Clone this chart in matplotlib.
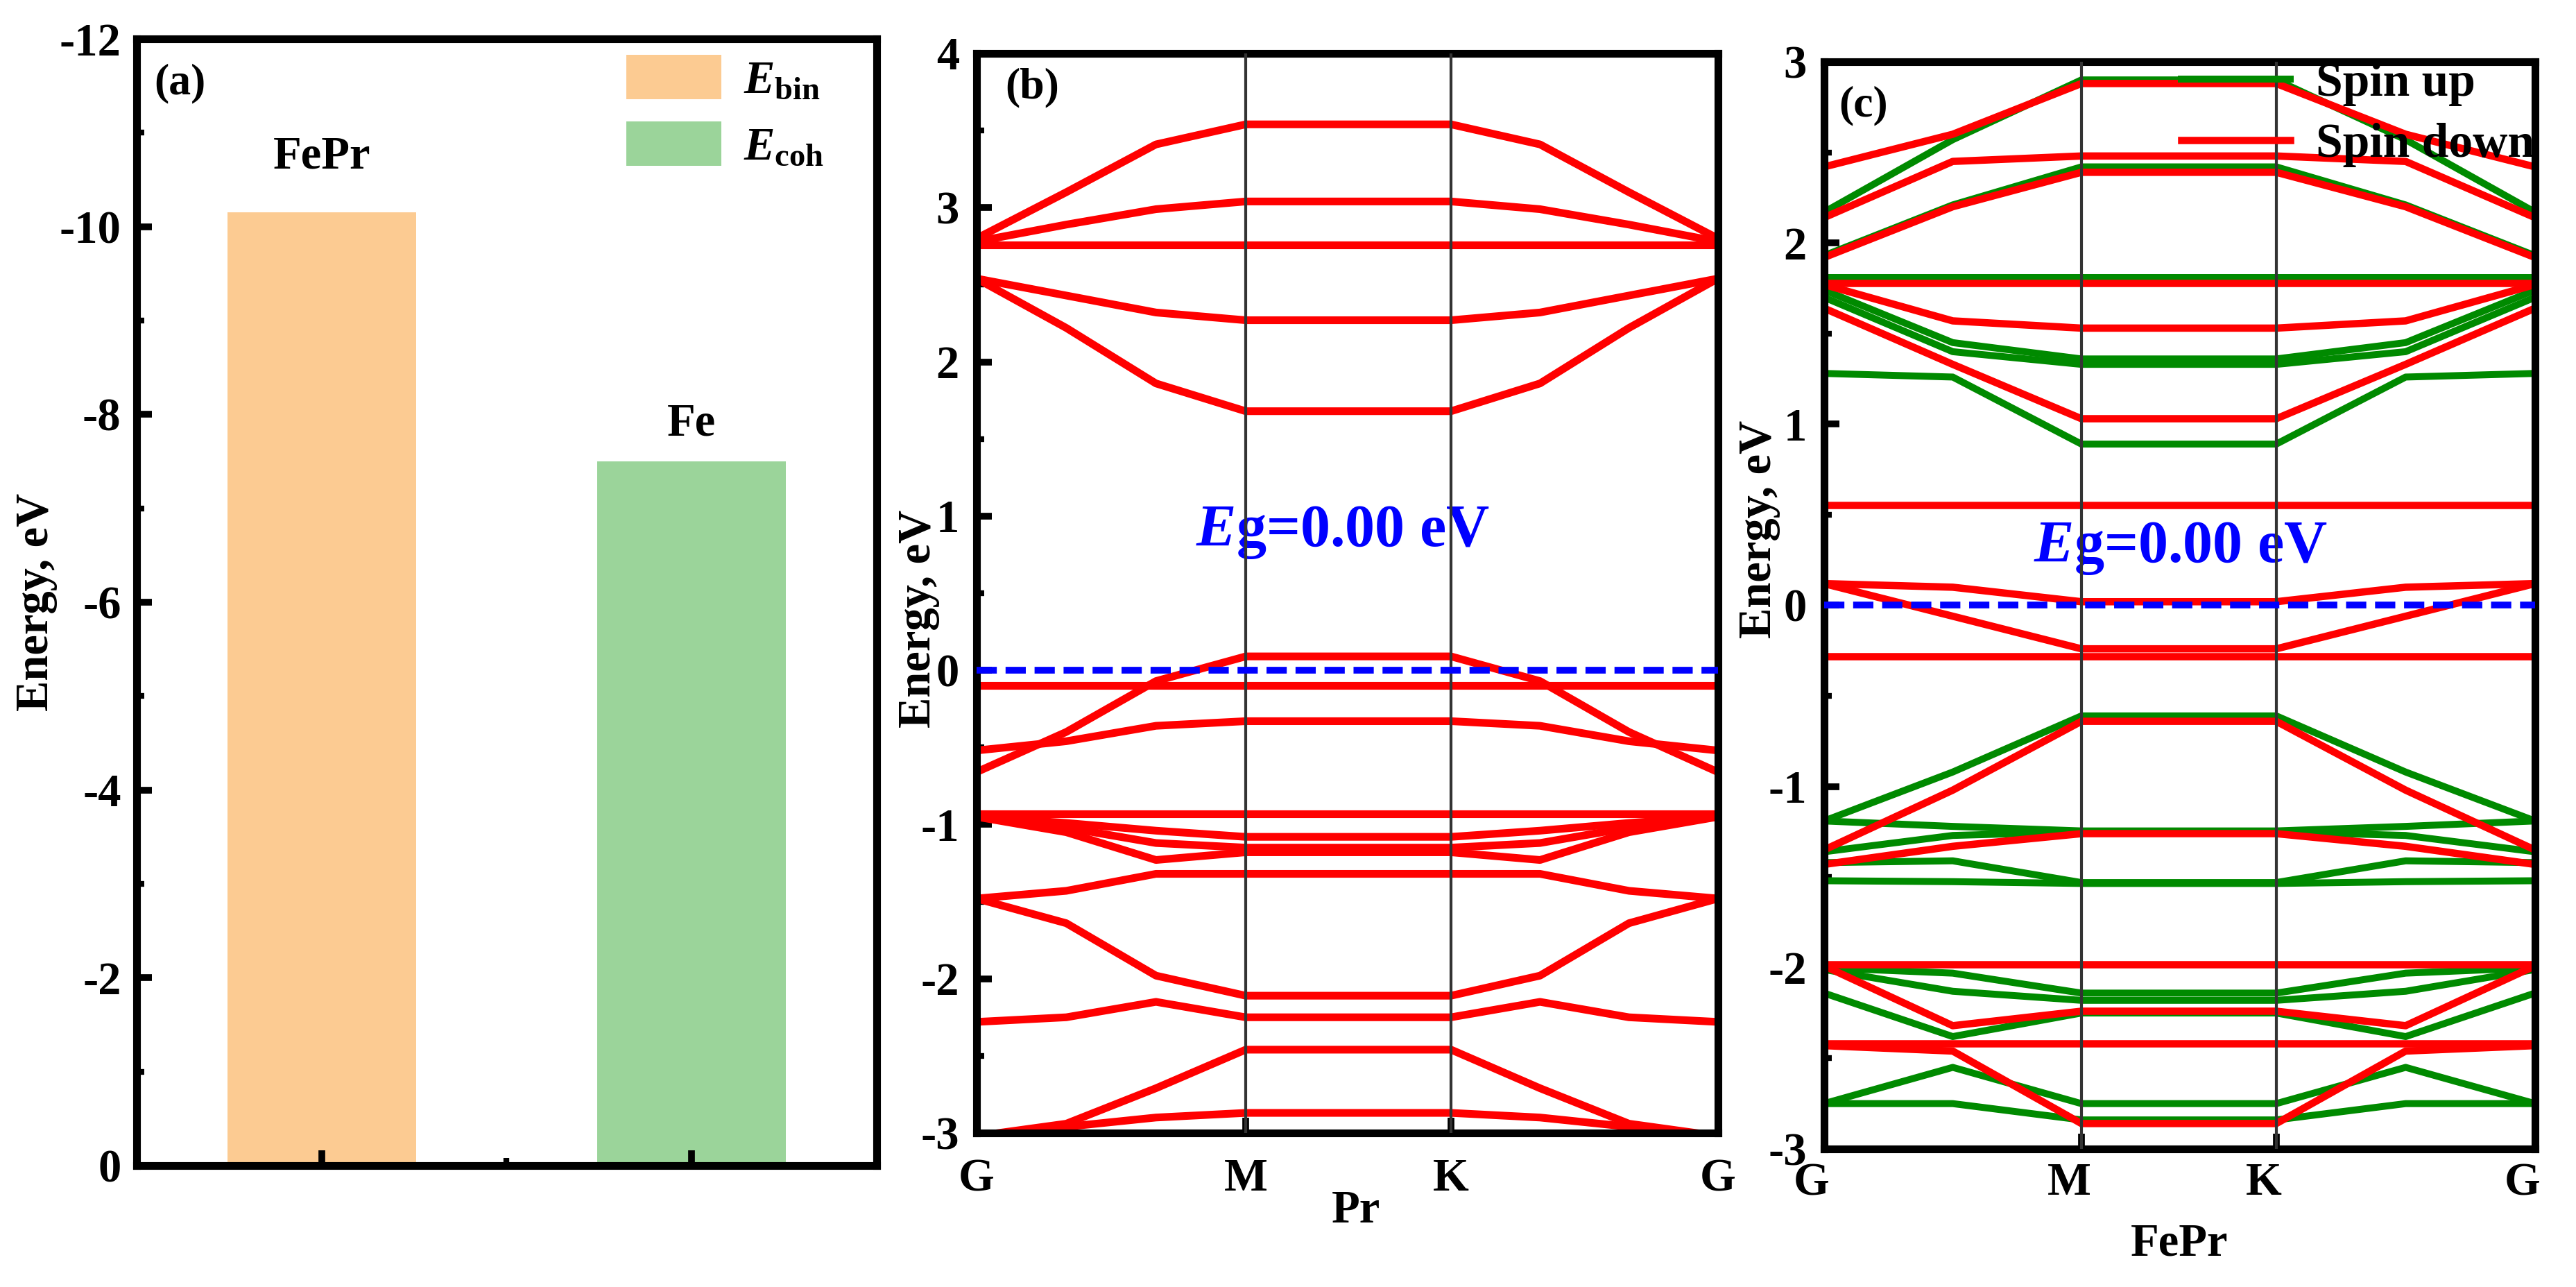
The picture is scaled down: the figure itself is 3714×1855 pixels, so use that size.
import numpy as np
import matplotlib
matplotlib.use('Agg')
import matplotlib.pyplot as plt
from matplotlib.ticker import MultipleLocator
from matplotlib.transforms import ScaledTranslation

plt.rcParams['font.family'] = ['Liberation Serif', 'DejaVu Serif']
plt.rcParams['font.weight'] = 'bold'
plt.rcParams['axes.unicode_minus'] = False
plt.rcParams['mathtext.fontset'] = 'custom'
plt.rcParams['mathtext.rm'] = 'Liberation Serif:bold'
plt.rcParams['mathtext.it'] = 'Liberation Serif:italic:bold'
plt.rcParams['mathtext.bf'] = 'Liberation Serif:bold'

# (a) binding / cohesive energy
compounds = ['FePr', 'Fe']
energies = [-10.15, -7.50]
legend_labels = [r'$E_{\mathrm{bin}}$', r'$E_{\mathrm{coh}}$']
bar_colors = ['#fccb92', '#9bd49a']
label_offsets = [0.47, 0.28]

# k path (G-M-K-G)
k_labels = ['G', 'M', 'K', 'G']
k_pr = [0.0, 0.121, 0.242, 0.363, 0.640, 0.760, 0.880, 1.0]
k_fepr = [0.0, 0.181, 0.362, 0.636, 0.818, 1.0]

# (b) Pr bands, eV
bands_pr = [
    [2.80, 3.10, 3.41, 3.54, 3.54, 3.41, 3.10, 2.80],
    [2.78, 2.89, 2.99, 3.04, 3.04, 2.99, 2.89, 2.78],
    [2.76, 2.76, 2.76, 2.76, 2.76, 2.76, 2.76, 2.76],
    [2.54, 2.43, 2.32, 2.27, 2.27, 2.32, 2.43, 2.54],
    [2.54, 2.22, 1.86, 1.68, 1.68, 1.86, 2.22, 2.54],
    [-0.66, -0.40, -0.07, 0.09, 0.09, -0.07, -0.40, -0.66],
    [-0.52, -0.46, -0.36, -0.33, -0.33, -0.36, -0.46, -0.52],
    [-0.10, -0.10, -0.10, -0.10, -0.10, -0.10, -0.10, -0.10],
    [-0.93, -0.93, -0.93, -0.93, -0.93, -0.93, -0.93, -0.93],
    [-0.95, -0.99, -1.04, -1.08, -1.08, -1.04, -0.99, -0.95],
    [-0.95, -1.05, -1.23, -1.18, -1.18, -1.23, -1.05, -0.95],
    [-0.95, -1.02, -1.12, -1.15, -1.15, -1.12, -1.02, -0.95],
    [-1.48, -1.43, -1.32, -1.32, -1.32, -1.32, -1.43, -1.48],
    [-1.48, -1.64, -1.98, -2.11, -2.11, -1.98, -1.64, -1.48],
    [-2.28, -2.25, -2.15, -2.25, -2.25, -2.15, -2.25, -2.28],
    [-3.02, -2.94, -2.71, -2.46, -2.46, -2.71, -2.94, -3.02],
    [-3.02, -2.96, -2.90, -2.87, -2.87, -2.90, -2.96, -3.02],
]

# (c) FePr bands, eV
bands_up = [
    [2.17, 2.57, 2.90, 2.90, 2.57, 2.17],
    [1.93, 2.21, 2.42, 2.42, 2.21, 1.93],
    [1.81, 1.81, 1.81, 1.81, 1.81, 1.81],
    [1.74, 1.45, 1.36, 1.36, 1.45, 1.74],
    [1.70, 1.40, 1.33, 1.33, 1.40, 1.70],
    [1.28, 1.26, 0.89, 0.89, 1.26, 1.28],
    [-1.19, -0.92, -0.61, -0.61, -0.92, -1.19],
    [-1.19, -1.22, -1.245, -1.245, -1.22, -1.19],
    [-1.36, -1.27, -1.25, -1.25, -1.27, -1.36],
    [-1.42, -1.41, -1.53, -1.53, -1.41, -1.42],
    [-1.52, -1.525, -1.535, -1.535, -1.525, -1.52],
    [-2.00, -2.03, -2.14, -2.14, -2.03, -2.00],
    [-2.01, -2.13, -2.18, -2.18, -2.13, -2.01],
    [-2.14, -2.38, -2.25, -2.25, -2.38, -2.14],
    [-2.75, -2.55, -2.75, -2.75, -2.55, -2.75],
    [-2.75, -2.75, -2.84, -2.84, -2.75, -2.75],
]
bands_down = [
    [2.42, 2.60, 2.88, 2.88, 2.60, 2.42],
    [2.14, 2.45, 2.48, 2.48, 2.45, 2.14],
    [1.92, 2.20, 2.39, 2.39, 2.20, 1.92],
    [1.78, 1.78, 1.78, 1.78, 1.78, 1.78],
    [1.77, 1.57, 1.53, 1.53, 1.57, 1.77],
    [1.64, 1.33, 1.03, 1.03, 1.33, 1.64],
    [0.555, 0.555, 0.555, 0.555, 0.555, 0.555],
    [0.12, 0.10, 0.02, 0.02, 0.10, 0.12],
    [0.12, -0.06, -0.24, -0.24, -0.06, 0.12],
    [-0.28, -0.28, -0.28, -0.28, -0.28, -0.28],
    [-1.35, -1.02, -0.64, -0.64, -1.02, -1.35],
    [-1.43, -1.33, -1.26, -1.26, -1.33, -1.43],
    [-1.98, -1.98, -1.98, -1.98, -1.98, -1.98],
    [-1.99, -2.32, -2.24, -2.24, -2.32, -1.99],
    [-2.42, -2.42, -2.42, -2.42, -2.42, -2.42],
    [-2.43, -2.46, -2.86, -2.86, -2.46, -2.43],
]

FS = 24
fig = plt.figure(figsize=(18.57, 9.275), dpi=200)


def style_axes(ax):
    for s in ax.spines.values():
        s.set_linewidth(4)
    ax.tick_params(which='major', direction='in', length=8, width=3.5,
                   labelsize=FS, top=False, right=False)
    ax.tick_params(which='minor', direction='in', length=4, width=3,
                   top=False, right=False)


# ---------- (a) ----------
ax1 = fig.add_axes([0.0530, 0.0943, 0.2873, 0.8755])
x = np.arange(1, len(compounds) + 1)
for i in range(len(compounds)):
    ax1.bar(x[i], energies[i], width=0.51, color=bar_colors[i],
            label=legend_labels[i], linewidth=0)
    ax1.text(x[i], energies[i] - label_offsets[i], compounds[i],
             ha='center', va='baseline', fontsize=FS, fontweight='bold')
ax1.set_xlim(0.5, 2.5)
ax1.set_ylim(0, -12)
ax1.set_xticks(x)
ax1.set_xticklabels([])
ax1.xaxis.set_minor_locator(MultipleLocator(0.5))
ax1.yaxis.set_major_locator(MultipleLocator(2))
ax1.yaxis.set_minor_locator(MultipleLocator(1))
style_axes(ax1)
ax1.tick_params(axis='y', pad=8)
ax1.set_ylabel('Energy, eV', fontsize=FS, fontweight='bold')
ax1.yaxis.set_label_coords(-0.107, 0.5)
ax1.text(0.024, 0.978, '(a)', transform=ax1.transAxes, ha='left', va='top',
         fontsize=23, fontweight='bold')
ax1.legend(loc='upper left', bbox_to_anchor=(0.662, 0.986), frameon=False,
           fontsize=FS, handlelength=2.05, handleheight=1.1,
           handletextpad=0.48, labelspacing=0.42, borderpad=0, borderaxespad=0)

# ---------- (b) Pr ----------
ax2 = fig.add_axes([0.3791, 0.1197, 0.2878, 0.8388])
for band in bands_pr:
    ax2.plot(k_pr, band, color='#ff0000', lw=4, solid_joinstyle='round')
hs_pr = [k_pr[0], k_pr[3], k_pr[4], k_pr[7]]
for xv in hs_pr[1:3]:
    ax2.axvline(xv, color='#333333', lw=1.5, zorder=4)
ax2.axhline(0, color='#0000ff', lw=3.5, ls=(0, (3, 1.3)), zorder=5)
ax2.set_xlim(0, 1)
ax2.set_ylim(-3, 4)
ax2.set_xticks(hs_pr)
ax2.set_xticklabels(k_labels)
ax2.yaxis.set_major_locator(MultipleLocator(1))
ax2.yaxis.set_minor_locator(MultipleLocator(0.5))
style_axes(ax2)
ax2.tick_params(axis='y', pad=9)
ax2.tick_params(axis='x', pad=13)
ax2.set_ylabel('Energy, eV', fontsize=FS, fontweight='bold')
ax2.yaxis.set_label_coords(-0.050, 0.476)
ax2.set_xlabel('Pr', fontsize=FS, fontweight='bold')
ax2.xaxis.set_label_coords(0.512, -0.0527)
ax2.text(0.039, 0.987, '(b)', transform=ax2.transAxes, ha='left', va='top',
         fontsize=23, fontweight='bold')
ax2.text(0.494, 0.806, r'$E$g=0.00 eV', color='#0000ff', fontsize=31,
         fontweight='bold', ha='center', va='baseline')

# ---------- (c) FePr ----------
ax3 = fig.add_axes([0.7081, 0.1073, 0.2760, 0.8447])
for i, band in enumerate(bands_up):
    ax3.plot(k_fepr, band, color='#008a00', lw=3.6,
             label='Spin up' if i == 0 else None)
for i, band in enumerate(bands_down):
    ax3.plot(k_fepr, band, color='#ff0000', lw=3.8,
             label='Spin down' if i == 0 else None)
hs_fepr = [k_fepr[0], k_fepr[2], k_fepr[3], k_fepr[5]]
for xv in hs_fepr[1:3]:
    ax3.axvline(xv, color='#333333', lw=1.5, zorder=4)
ax3.axhline(0, color='#0000ff', lw=3.5, ls=(0, (3, 1.3)), zorder=5)
ax3.set_xlim(0, 1)
ax3.set_ylim(-3, 3)
ax3.set_xticks(hs_fepr)
ax3.set_xticklabels(k_labels)
ax3.yaxis.set_major_locator(MultipleLocator(1))
ax3.yaxis.set_minor_locator(MultipleLocator(0.5))
style_axes(ax3)
ax3.tick_params(axis='y', pad=9)
ax3.tick_params(axis='x', pad=7)
shift = ScaledTranslation(-18 / 200, 0, fig.dpi_scale_trans)
for lab in ax3.get_xticklabels():
    lab.set_transform(lab.get_transform() + shift)
ax3.set_ylabel('Energy, eV', fontsize=FS, fontweight='bold')
ax3.yaxis.set_label_coords(-0.061, 0.570)
ax3.set_xlabel('FePr', fontsize=FS, fontweight='bold')
ax3.xaxis.set_label_coords(0.5, -0.0683)
ax3.text(0.021, 0.978, '(c)', transform=ax3.transAxes, ha='left', va='top',
         fontsize=23, fontweight='bold')
ax3.text(0.502, 0.24, r'$E$g=0.00 eV', color='#0000ff', fontsize=31,
         fontweight='bold', ha='center', va='baseline')
ax3.legend(loc='upper left', bbox_to_anchor=(0.503, 1.0), frameon=False,
           fontsize=25, handlelength=2.25, handletextpad=0.54,
           labelspacing=0.35, borderpad=0, borderaxespad=0)

fig.savefig('out.png', dpi=200, facecolor='white')
